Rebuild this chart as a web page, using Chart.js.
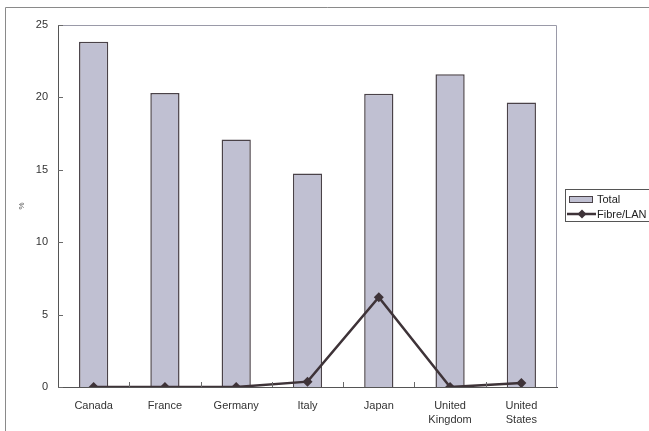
<!DOCTYPE html>
<html>
<head>
<meta charset="utf-8">
<script src="https://cdn.jsdelivr.net/npm/chart.js@4/dist/chart.umd.min.js"></script>
<style>
html,body{margin:0;padding:0;background:#fff;}
#wrap{position:relative;width:649px;height:431px;}
canvas{display:block;}
</style>
</head>
<body>
<div id="wrap"><canvas id="c" width="649" height="431"></canvas></div>
<script>
const categories = ['Canada', 'France', 'Germany', 'Italy', 'Japan', ['United', 'Kingdom'], ['United', 'States']];
const totalValues = [23.85, 20.3, 17.1, 14.75, 20.25, 21.6, 19.65];
const fibreValues = [0.0, 0.0, 0.0, 0.37, 6.2, 0.0, 0.27];
const seriesNames = ['Total', 'Fibre/LAN'];
const yTicks = [0, 5, 10, 15, 20, 25];
const yTitle = '%';

const BAR_FILL = '#c0c0d2';
const BAR_EDGE = '#4a4248';
const LINE_COL = '#3e3338';
const FONT = "'Liberation Sans', Arial, sans-serif";

const decor = {
  id: 'decor',
  beforeDraw(chart) {
    const ctx = chart.ctx;
    ctx.save();
    ctx.strokeStyle = '#8a8a8a';
    ctx.lineWidth = 1;
    ctx.beginPath();
    ctx.moveTo(5.5, 431);
    ctx.lineTo(5.5, 7.5);
    ctx.lineTo(649, 7.5);
    ctx.stroke();
    ctx.restore();
  },
  afterDatasetsDraw(chart) {
    const ctx = chart.ctx;
    const a = chart.chartArea;
    const xs = chart.scales.x, ys = chart.scales.y;
    ctx.save();
    // top and right plot borders
    ctx.strokeStyle = '#9a9aa8';
    ctx.lineWidth = 1;
    ctx.beginPath();
    ctx.moveTo(a.left, a.top + 0.5);
    ctx.lineTo(a.right - 0.5, a.top + 0.5);
    ctx.lineTo(a.right - 0.5, a.bottom);
    ctx.stroke();
    // inner tick marks
    ctx.strokeStyle = '#6a6a6a';
    ctx.beginPath();
    yTicks.forEach(v => {
      const y = Math.round(ys.getPixelForValue(v)) + 0.5;
      ctx.moveTo(a.left, y);
      ctx.lineTo(a.left + 5, y);
    });
    const n = categories.length;
    const w = (xs.getPixelForValue(1) - xs.getPixelForValue(0));
    for (let i = 1; i < n; i++) {
      const x = Math.round(xs.getPixelForValue(i) - w / 2) + 0.5;
      ctx.moveTo(x, a.bottom);
      ctx.lineTo(x, a.bottom - 5);
    }
    ctx.stroke();
    ctx.restore();
  },
  afterDraw(chart) {
    // legend
    const ctx = chart.ctx;
    ctx.save();
    ctx.strokeStyle = '#555';
    ctx.lineWidth = 1;
    ctx.strokeRect(565.5, 189.5, 100, 32);
    ctx.fillStyle = BAR_FILL;
    ctx.fillRect(569, 196, 24, 7);
    ctx.strokeStyle = BAR_EDGE;
    ctx.strokeRect(569.5, 196.5, 23, 6);
    ctx.strokeStyle = LINE_COL;
    ctx.lineWidth = 2.5;
    ctx.beginPath();
    ctx.moveTo(567, 214);
    ctx.lineTo(596, 214);
    ctx.stroke();
    ctx.fillStyle = LINE_COL;
    ctx.beginPath();
    ctx.moveTo(582, 209.5);
    ctx.lineTo(586.5, 214);
    ctx.lineTo(582, 218.5);
    ctx.lineTo(577.5, 214);
    ctx.closePath();
    ctx.fill();
    ctx.fillStyle = '#222';
    ctx.font = '11px ' + FONT;
    ctx.textBaseline = 'middle';
    ctx.fillText(seriesNames[0], 597, 200);
    ctx.fillText(seriesNames[1], 597, 214.5);
    ctx.restore();
  }
};

new Chart(document.getElementById('c'), {
  data: {
    labels: categories,
    datasets: [
      {
        type: 'line',
        label: seriesNames[1],
        data: fibreValues,
        borderColor: LINE_COL,
        backgroundColor: LINE_COL,
        borderWidth: 2.5,
        pointStyle: 'rectRot',
        pointRadius: 5,
        pointBorderWidth: 0,
        tension: 0,
        order: 0
      },
      {
        type: 'bar',
        label: seriesNames[0],
        data: totalValues,
        backgroundColor: BAR_FILL,
        borderColor: BAR_EDGE,
        borderWidth: 1.5,
        barPercentage: 0.41,
        categoryPercentage: 1,
        order: 1
      }
    ]
  },
  options: {
    responsive: false,
    animation: false,
    layout: { padding: { left: 0, top: 25, right: 92, bottom: 0 } },
    plugins: { legend: { display: false }, tooltip: { enabled: false } },
    scales: {
      x: {
        type: 'category',
        offset: true,
        grid: { display: false, drawTicks: false },
        border: { color: '#555', width: 1 },
        ticks: { color: '#333', padding: 12, font: { family: FONT, size: 11, lineHeight: 1.25 }, maxRotation: 0, autoSkip: false },
        afterFit(s) { s.height = 44; }
      },
      y: {
        min: 0, max: 25,
        afterBuildTicks(s) { s.ticks = yTicks.map(v => ({ value: v })); },
        grid: { display: false, drawTicks: false },
        border: { color: '#555', width: 1 },
        ticks: { color: '#333', padding: 10, font: { family: FONT, size: 11 } },
        title: { display: true, text: yTitle, color: '#555', font: { family: FONT, size: 8 }, padding: { top: 17, bottom: 0 } },
        afterFit(s) { s.width = 58; }
      }
    }
  },
  plugins: [decor]
});
</script>
</body>
</html>
